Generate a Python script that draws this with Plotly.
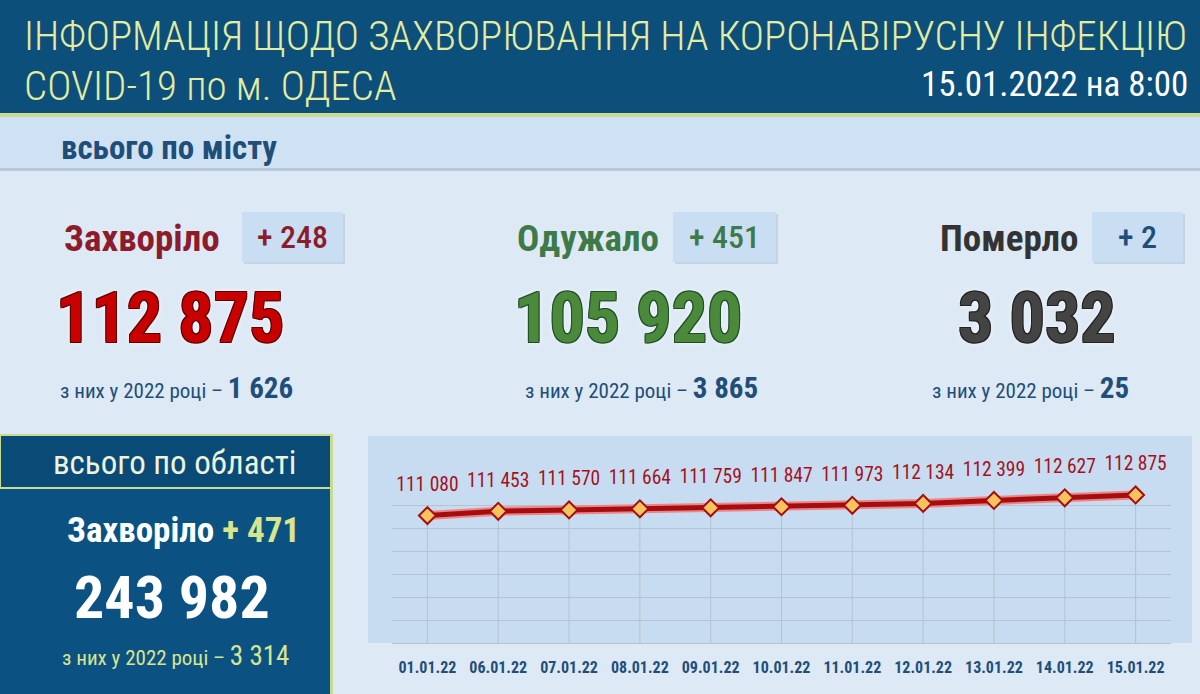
import plotly.graph_objects as go

W, H = 1200, 694

# ---- data ----
dates = ['01.01.22', '06.01.22', '07.01.22', '08.01.22', '09.01.22', '10.01.22',
         '11.01.22', '12.01.22', '13.01.22', '14.01.22', '15.01.22']
city_cases = [111080, 111453, 111570, 111664, 111759, 111847, 111973, 112134, 112399, 112627, 112875]

stat_names = ['Захворіло', 'Одужало', 'Померло']
stat_totals = [112875, 105920, 3032]
stat_daily = [248, 451, 2]
stat_2022 = [1626, 3865, 25]

region_total = 243982
region_daily = 471
region_2022 = 3314

title_line1 = 'ІНФОРМАЦІЯ ЩОДО ЗАХВОРЮВАННЯ НА КОРОНАВІРУСНУ ІНФЕКЦІЮ'
title_line2 = 'COVID-19 по м. ОДЕСА'
report_date = '15.01.2022 на 8:00'

COND = 'Roboto Condensed, DejaVu Sans Condensed, sans-serif'
DARK_BLUE = '#0d4f7b'
LIME = '#e3eca0'
TEXT_BLUE = '#1f4e79'


def fmt(v):
    return f'{v:,}'.replace(',', ' ')


def px(x):
    return x / W


def py(y):
    return 1 - y / H


def rect(x0, y0, x1, y1, color, line=None):
    return dict(type='rect', xref='paper', yref='paper', x0=px(x0), x1=px(x1), y0=py(y1), y1=py(y0),
                fillcolor=color, line=line or dict(width=0), layer='below')


def text(x, y, s, size, color, anchor='left', weight='normal', shadow=None):
    f = dict(family=COND, size=size, color=color, weight=weight)
    if shadow:
        f['shadow'] = shadow
    return dict(x=px(x), y=py(y), xref='paper', yref='paper', text=s, showarrow=False,
                xanchor=anchor, yanchor='middle', font=f)


fig = go.Figure()

# line chart of cumulative cases (glow + main line)
fig.add_trace(go.Scatter(
    x=dates, y=city_cases, mode='lines', hoverinfo='skip',
    line=dict(color='#ee8585', width=9), showlegend=False))
fig.add_trace(go.Scatter(
    x=dates, y=city_cases, mode='lines+markers',
    line=dict(color='#a50d10', width=5),
    marker=dict(symbol='diamond', size=13, color='#f6c45e', line=dict(color='#a50d10', width=2)),
    error_y=dict(type='data', symmetric=False, array=[0] * len(city_cases),
                 arrayminus=[v - 100000 for v in city_cases], color='#b5c3d1', thickness=1, width=0),
    cliponaxis=False, showlegend=False))
# value labels (invisible larger markers push the text a bit higher)
fig.add_trace(go.Scatter(
    x=dates, y=city_cases, mode='markers+text', hoverinfo='skip',
    marker=dict(size=30, color='rgba(0,0,0,0)'),
    text=[fmt(v) for v in city_cases], textposition='top center',
    textfont=dict(family=COND, size=19.5, color='#a3121c'),
    cliponaxis=False, showlegend=False))

shapes = [
    rect(0, 0, 1200, 113, DARK_BLUE),
    rect(0, 113, 1200, 117, '#c9dc8e'),
    rect(0, 117, 1200, 168, '#cfe2f4'),
    rect(0, 168, 1200, 171, '#b8c9d8'),
    # chart panel
    rect(368, 436, 1192, 643, '#c7dcf0'),
    # left region box
    rect(0, 435, 332, 694, '#0b5283'),
    rect(0, 435, 332, 488, '#0a4a77', line=dict(color='#c9dc8e', width=2)),
    rect(330, 435, 333, 694, '#c9dc8e'),
]

annotations = [
    text(22, 36, title_line1, 41, LIME, weight=300),
    text(22, 86, title_line2, 41, LIME, weight=300),
    text(1190, 84, report_date, 35, '#ffffff', anchor='right'),
    text(59, 147, 'всього по місту', 33, TEXT_BLUE, weight='bold'),
]

# city stats
name_colors = ['#8c1c2c', '#3d7a48', '#333333']
big_colors = ['#c90000', '#4b8a3a', '#444444']
outline = ['#5a0000', '#1e4d2a', '#222222']
name_x = [62, 515, 938]
badge_x = [(242, 343), (673, 776), (1092, 1183)]
big_cx = [170, 628, 1037]
sub_x = [58, 523, 930]
for i in range(3):
    shapes.append(rect(badge_x[i][0] + 2, 214, badge_x[i][1] + 2, 264, '#c6d3e0'))
    shapes.append(rect(badge_x[i][0], 212, badge_x[i][1], 262, '#c9def3'))
    annotations.append(text(name_x[i], 238, stat_names[i], 37, name_colors[i], weight='bold'))
    annotations.append(text(sum(badge_x[i]) / 2, 237, f'+ {stat_daily[i]}', 32,
                            name_colors[i] if i < 2 else TEXT_BLUE, anchor='center', weight=500))
    annotations.append(text(big_cx[i], 318, fmt(stat_totals[i]), 70, big_colors[i], anchor='center', weight='bold',
                            shadow=f'1px 1px 0 {outline[i]}, -1px -1px 0 {outline[i]}, '
                                   f'1px -1px 0 {outline[i]}, -1px 1px 0 {outline[i]}, 0 0 6px #ffffff'))
    annotations.append(text(sub_x[i], 388,
                            f"з них у 2022 році – <span style='font-size:29px;font-weight:bold'>{fmt(stat_2022[i])}</span>",
                            21, TEXT_BLUE))

# region stats
annotations += [
    text(298, 462, 'всього по області', 33, '#eef3dc', anchor='right'),
    text(65, 530, f"Захворіло <span style='color:#d8e58c'>+ {region_daily}</span>", 35, '#ffffff', weight='bold'),
    text(172, 597, fmt(region_total), 60, '#ffffff', anchor='center', weight='bold'),
    text(60, 656, f'з них у 2022 році – <span style="font-size:27px">{fmt(region_2022)}</span>', 21, '#d8e58c'),
]

fig.update_layout(
    width=W, height=H,
    margin=dict(l=0, r=0, t=0, b=0),
    paper_bgcolor='#dde9f5', plot_bgcolor='rgba(0,0,0,0)',
    shapes=shapes, annotations=annotations,
    xaxis=dict(domain=[px(392), px(1171)], range=[-0.5, 10.5], showgrid=False, zeroline=False,
               showline=True, linecolor='#b5c3d1', ticks='', ticklabelstandoff=10, tickangle=0,
               tickfont=dict(family=COND, size=16, color=TEXT_BLUE, weight='bold')),
    yaxis=dict(domain=[py(643), py(482)], range=[100000, 114000], dtick=2000, showticklabels=False,
               gridcolor='#b5c3d1', gridwidth=1, zeroline=False),
    font=dict(family=COND),
)

fig.write_html('out.html', config={'displayModeBar': False},
               post_script="document.body.style.margin='0';")
